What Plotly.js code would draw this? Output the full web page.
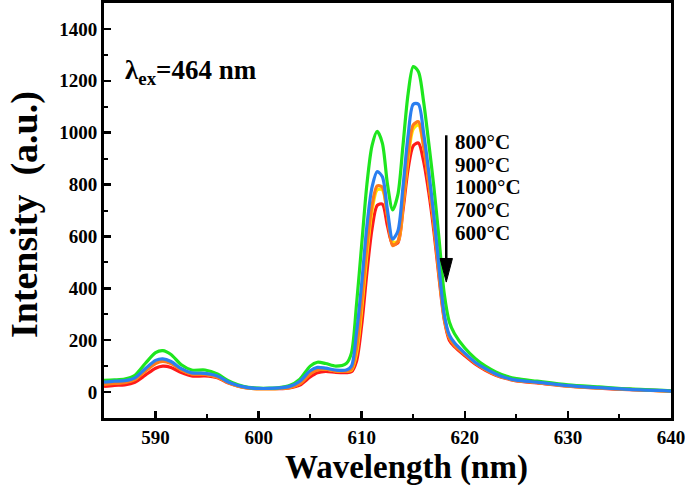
<!DOCTYPE html>
<html>
<head>
<meta charset="utf-8">
<script src="https://cdn.plot.ly/plotly-3.0.1.min.js"></script>
<style>html,body{margin:0;padding:0;background:#fff;}#chart{width:685px;height:490px;}</style>
</head>
<body>
<div id="chart"></div>
<script>
const wavelength = [585,586,587,588,589,590,590.7,591.5,592.5,593.5,594.8,596,597,598,599,600,601,602,603,604,605,605.7,606.5,607.5,608.5,609,609.5,610,610.5,611,611.5,612,612.5,613,613.5,614,614.5,615,615.5,616,616.5,617,617.5,618,618.5,619,620,621,622,623,624,625,627,630,633,636,640];

const i600 = [22,26,28,38,65,92,100,95,75,62,62,55,36,23,15,13,13,13,16,27,58,74,80,76,75,78,120,260,460,630,720,725,640,570,575,700,860,950,960,890,770,620,440,280,200,175,140,108,84,65,52,43,35,23,15,9,4];
const i700 = [32,35,38,50,82,112,120,112,86,71,69,58,38,24,16,13,13,14,18,33,72,86,88,82,80,85,150,320,530,700,780,780,680,580,580,720,900,1015,1030,950,810,650,460,290,210,182,147,113,88,68,54,45,37,24,16,10,4];
const i1000 = [30,33,36,48,80,110,118,110,85,70,68,58,38,24,16,13,13,14,18,32,70,85,88,82,80,88,170,350,560,720,795,790,680,565,580,730,920,1030,1042,950,810,650,460,290,210,180,145,112,88,68,54,45,37,24,16,10,4];
const i800 = [45,47,50,65,110,152,160,145,105,85,85,70,45,28,18,15,15,17,25,50,100,115,110,100,110,150,340,570,800,950,1005,960,800,702,760,950,1150,1255,1235,1120,960,790,590,380,270,225,170,130,100,78,62,52,42,28,20,12,5];
const i900 = [38,42,44,55,90,122,128,118,90,74,72,62,40,25,17,14,14,16,22,42,82,95,92,85,85,100,230,420,640,790,850,830,700,590,620,790,990,1110,1110,1000,850,680,480,300,220,190,150,115,90,70,55,46,38,25,17,10,4];

const seriesNames = ['600°C','700°C','1000°C','800°C','900°C'];
const seriesColors = ['#ff1a1a','#ffe600','#ff7a1a','#1ee61e','#2a7ff0'];
const seriesData = [i600, i700, i1000, i800, i900];

const legendLines = ['800°C','900°C','1000°C','700°C','600°C'];
const legendY = [964, 877, 790, 702, 614];
const excitationLabel = 'λ<sub>ex</sub>=464 nm';
const xTitle = 'Wavelength (nm)';
const yTitle = 'Intensity  (a.u.)';

const font = 'Liberation Serif, Times New Roman, serif';

const traces = seriesData.map((ys, k) => ({
  x: wavelength, y: ys, type: 'scatter', mode: 'lines', name: seriesNames[k],
  line: {color: seriesColors[k], width: 3.2, shape: 'spline', smoothing: 0.8}
}));

const annotations = [
  {x: 586.8, y: 1234, xref: 'x', yref: 'y', xanchor: 'left', yanchor: 'middle', showarrow: false,
   text: '<b>' + excitationLabel + '</b>', font: {family: font, size: 27, color: '#000'}},
  {x: 0.534, y: -0.12, xref: 'paper', yref: 'paper', xanchor: 'center', yanchor: 'middle', showarrow: false,
   text: '<b>' + xTitle + '</b>', font: {family: font, size: 33, color: '#000'}},
  {x: -0.141, y: 0.489, xref: 'paper', yref: 'paper', xanchor: 'center', yanchor: 'middle', showarrow: false,
   textangle: -90, text: '<b>' + yTitle + '</b>', font: {family: font, size: 38, color: '#000'}}
];
legendLines.forEach((t, k) => annotations.push({
  x: 618.85, y: legendY[k], xref: 'x', yref: 'y', xanchor: 'left', yanchor: 'middle', showarrow: false,
  text: '<b>' + t + '</b>', font: {family: font, size: 21, color: '#000'}
}));

const layout = {
  width: 685, height: 490,
  margin: {l: 104, r: 14, t: 3, b: 72},
  paper_bgcolor: '#fff', plot_bgcolor: '#fff',
  showlegend: false,
  font: {family: font, color: '#000'},
  xaxis: {
    range: [585, 640], dtick: 10, tick0: 590,
    ticks: 'inside', ticklen: 7, tickwidth: 2.5, tickcolor: '#000',
    minor: {dtick: 5, tick0: 585, ticks: 'inside', ticklen: 4, tickwidth: 2, tickcolor: '#000', showgrid: false},
    showline: true, linewidth: 3, linecolor: '#000', mirror: true,
    showgrid: false, zeroline: false, ticklabeloverflow: 'allow',
    tickfont: {family: font, size: 19, color: '#000', weight: 'bold'}
  },
  yaxis: {
    range: [-100, 1500], dtick: 200, tick0: 0,
    ticks: 'inside', ticklen: 7, tickwidth: 2.5, tickcolor: '#000',
    minor: {dtick: 100, tick0: 0, ticks: 'inside', ticklen: 4, tickwidth: 2, tickcolor: '#000', showgrid: false},
    showline: true, linewidth: 3, linecolor: '#000', mirror: true,
    showgrid: false, zeroline: false,
    tickfont: {family: font, size: 19, color: '#000', weight: 'bold'}
  },
  shapes: [
    {type: 'line', xref: 'x', yref: 'y', x0: 618.2, x1: 618.2, y0: 990, y1: 500, line: {color: '#000', width: 2.5}},
    {type: 'path', xref: 'x', yref: 'y', path: 'M 617.6 515 L 618.8 515 L 618.2 424 Z', fillcolor: '#000', line: {color: '#000', width: 1}}
  ],
  annotations: annotations
};

Plotly.newPlot('chart', traces, layout, {displayModeBar: false, staticPlot: true});
</script>
</body>
</html>
